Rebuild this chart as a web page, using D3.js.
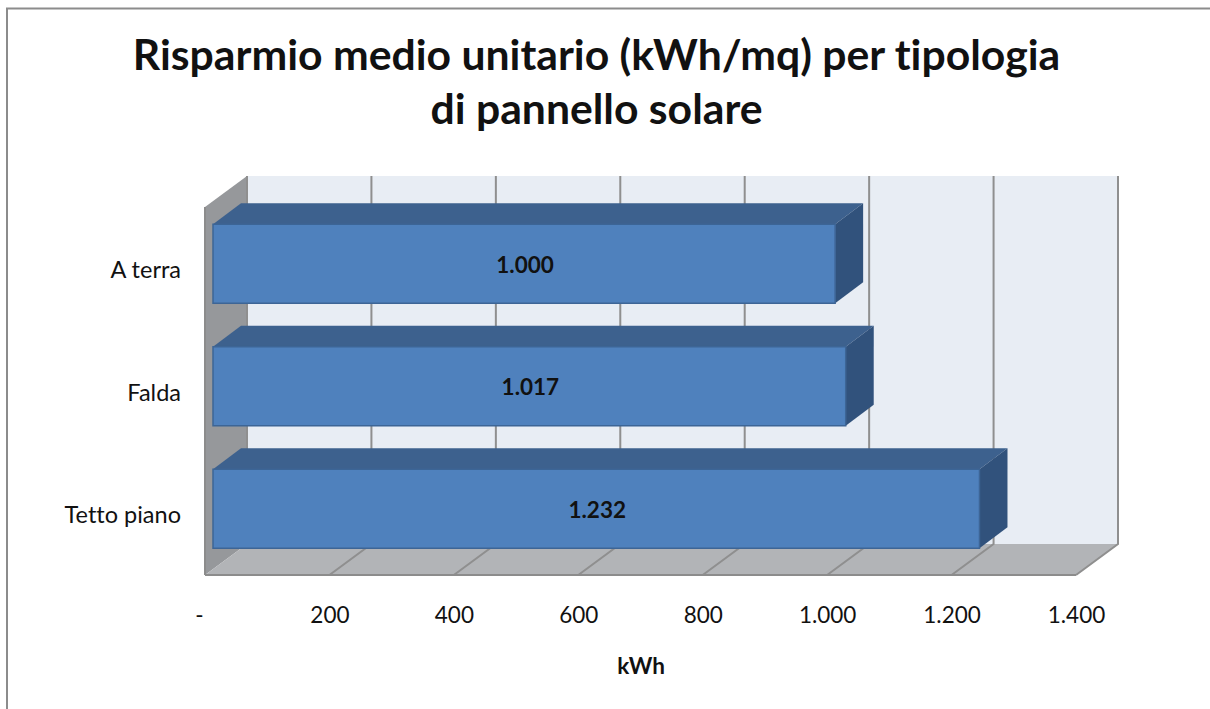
<!DOCTYPE html>
<html><head><meta charset="utf-8">
<script src="https://cdn.jsdelivr.net/npm/d3@7"></script>
<style>html,body{margin:0;padding:0;background:#fff}svg{display:block}text{font-family:Lato,"Open Sans",sans-serif;fill:#111;font-variant-ligatures:none}</style>
</head><body><div id="c"></div>
<script>
const categories = ["A terra","Falda","Tetto piano"];
const values = [1000,1017,1232];
const ticks = [0,200,400,600,800,1000,1200,1400];
const titleLines = ["Risparmio medio unitario (kWh/mq) per tipologia","di pannello solare"];
const axisTitle = "kWh";

const W=1210,H=709;
const it = d3.format(",");
const fmt = v => v===0 ? "-" : it(v).replace(/,/g,".");
const svg=d3.select("#c").append("svg").attr("width",W).attr("height",H);

// chart frame (right and bottom edges are cropped in the source)
svg.append("path").attr("d",`M7,${H}V8.5H${W}`).attr("fill","none").attr("stroke","#8c8c8c").attr("stroke-width",2);

svg.selectAll("text.title").data(titleLines).join("text").attr("class","title")
  .attr("x",596.5).attr("y",(d,i)=>70+i*54).attr("text-anchor","middle")
  .attr("font-size",42.7).attr("font-weight",700).attr("fill","#0a0a0a").text(d=>d);

const x=d3.scaleLinear().domain([0,1400]).range([205,1076]);
const y=d3.scaleBand().domain(categories).range([202.5,570]).paddingInner(.355).paddingOuter(.1775);
const dx=42,dy=-31,floorY=575,wallTop=176;   // box depth
const poly=(pts,fill,stroke)=>svg.append("polygon").attr("points",pts.map(p=>p.join(",")).join(" ")).attr("fill",fill).attr("stroke",stroke||"none");

// back wall, left wall, floor
poly([[x(0)+dx,wallTop],[x(1400)+dx,wallTop],[x(1400)+dx,floorY+dy],[x(0)+dx,floorY+dy]],"#e8edf4");
poly([[x(0),wallTop-dy],[x(0)+dx,wallTop],[x(0)+dx,floorY+dy],[x(0),floorY]],"#96989b");
poly([[x(0),floorY],[x(0)+dx,floorY+dy],[x(1400)+dx,floorY+dy],[x(1400),floorY]],"#b2b4b7");

// grid: back-wall verticals and floor diagonals
const grid=svg.append("g").attr("fill","none").attr("stroke","#8f8f8f").attr("stroke-width",2);
grid.selectAll("path").data(ticks).join("path")
  .attr("d",d=>d===0?`M${x(d)+dx},${wallTop}V${floorY+dy}`
    :`M${x(d)+dx},${wallTop}V${floorY+dy}L${x(d)},${floorY}`);
// front edges
svg.append("path").attr("d",`M${x(0)},${floorY}H${x(1400)}M${x(0)},${floorY}V${wallTop-dy}`)
  .attr("fill","none").attr("stroke","#8c8c8c").attr("stroke-width",2);

// bars
const bx=8,bdx=28,bdy=-21;
const bars=svg.append("g").selectAll("g").data(categories).join("g");
bars.each(function(c,i){
  const g=d3.select(this),x0=x(0)+bx,x1=x(values[i])-x(0)+x0,t=y(c),b=t+y.bandwidth();
  g.append("polygon").attr("points",[[x0,t],[x0+bdx,t+bdy],[x1+bdx,t+bdy],[x1,t]].join(" ")).attr("fill","#3d618e");
  g.append("polygon").attr("points",[[x1,t],[x1+bdx,t+bdy],[x1+bdx,b+bdy],[x1,b]].join(" ")).attr("fill","#31527c");
  g.append("rect").attr("x",x0).attr("y",t).attr("width",x1-x0).attr("height",b-t).attr("fill","#4f81bd").attr("stroke","#3d6596").attr("stroke-width",1.5);
  g.append("text").attr("x",(x0+x1)/2+1).attr("y",(t+b)/2+9).attr("text-anchor","middle")
    .attr("font-size",22.5).attr("font-weight",700).text(fmt(values[i]));
});

// axes
const ax=d3.axisBottom(x).tickValues(ticks).tickFormat(fmt).tickSize(0).tickPadding(0);
const gx=svg.append("g").attr("transform",`translate(0,607)`).call(ax);
gx.select(".domain").remove();
gx.selectAll("text").attr("font-size",22.5).attr("fill","#222").attr("dy","0.71em")
  .attr("dx",d=>d===0?-6:0);
const ay=d3.axisLeft(y).tickSize(0).tickPadding(0);
const gy=svg.append("g").attr("transform","translate(181,0)").call(ay);
gy.select(".domain").remove();
gy.selectAll("text").attr("font-size",23.5).attr("fill","#222").attr("dy","0.32em").attr("y",7);

svg.append("text").attr("x",641).attr("y",674).attr("text-anchor","middle").attr("font-size",22.5).attr("font-weight",700).text(axisTitle);
</script></body></html>
